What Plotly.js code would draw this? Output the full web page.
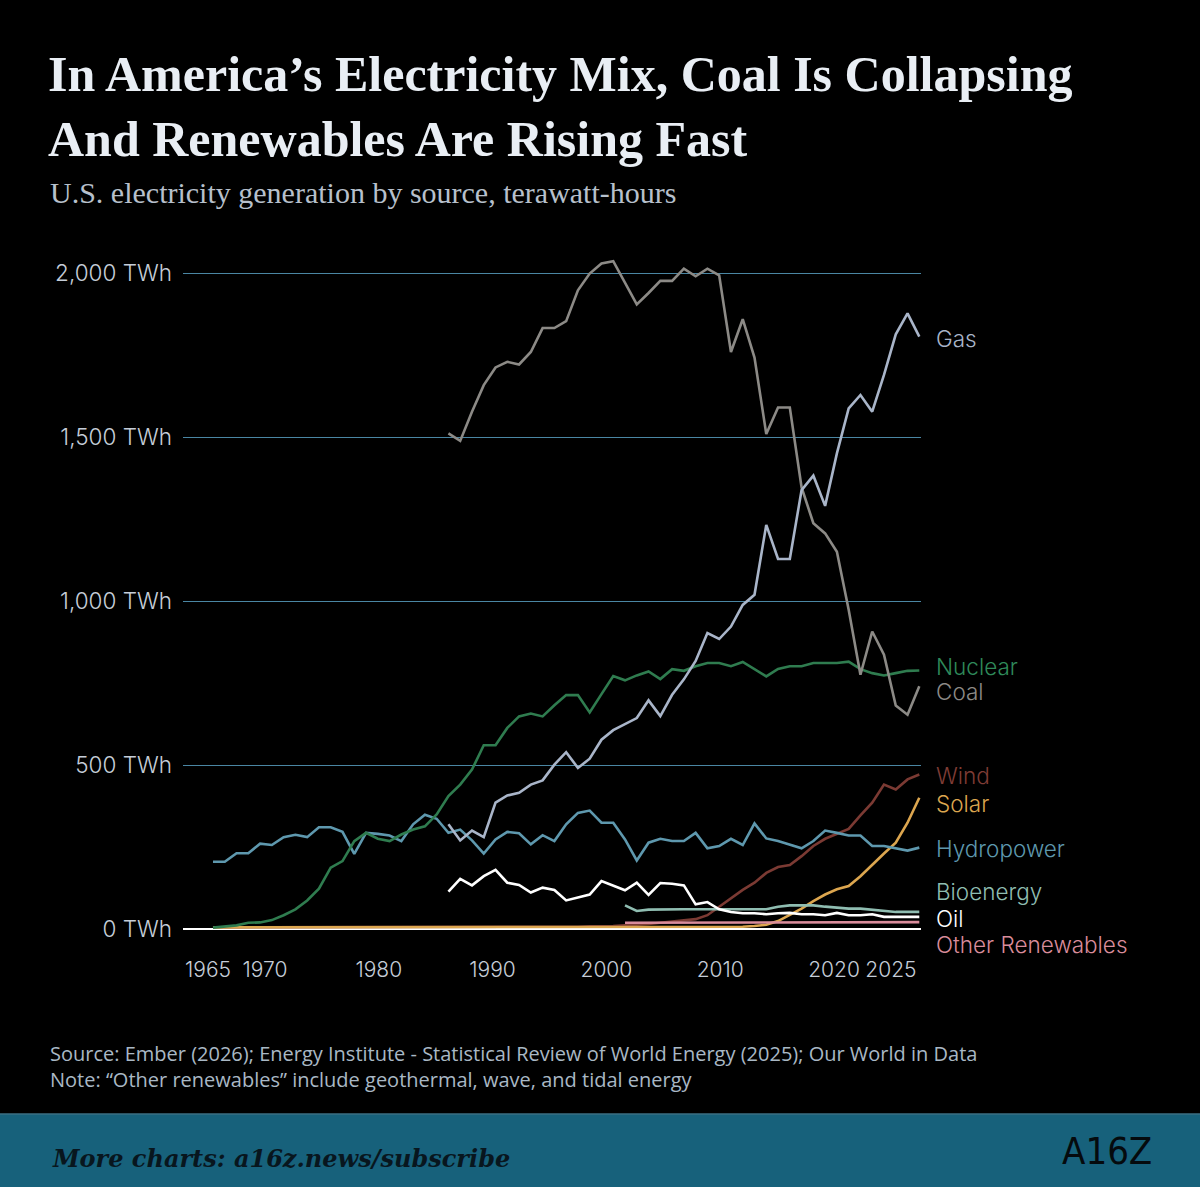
<!DOCTYPE html>
<html>
<head>
<meta charset="utf-8">
<script src="https://cdn.plot.ly/plotly-3.0.1.min.js"></script>
<style>
  html, body { margin: 0; padding: 0; background: #000; }
  #chart { width: 1200px; height: 1187px; }
</style>
</head>
<body>
<div id="chart"></div>
<script>
function range(a, b) { const r = []; for (let y = a; y <= b; y++) r.push(y); return r; }

const yearsFrom1965 = range(1965, 2025);
const yearsFrom1985 = range(1985, 2025);
const yearsFrom2000 = range(2000, 2025);

// TWh
const hydro = [
  206,206,232,232,261,257,281,288,281,311,
  311,297,230,294,291,286,269,320,349,337,
  294,304,271,231,274,297,293,259,287,269,
  320,355,362,325,325,274,210,264,276,269,
  269,294,247,254,276,257,323,277,269,257,
  247,269,301,294,286,286,254,254,246,240,
  249
];
const nuclear = [
  5,8,12,20,21,28,43,61,88,124,
  188,208,269,294,276,269,289,304,314,350,
  406,441,487,561,561,614,649,658,649,683,
  714,714,661,717,772,759,774,786,763,793,
  788,802,812,812,802,815,793,771,794,802,
  802,812,812,812,816,793,781,774,781,788,
  789
];
const wind = [
  6,6,6,6,6,6,6,6,6,6,
  6,6,6,6,6,6,6,6,7,7,
  7,7,7,7,8,8,8,8,8,8,
  8,8,9,9,10,12,13,16,20,23,
  27,31,43,69,96,120,142,172,190,196,
  223,254,276,292,306,347,386,441,426,457,
  472
];
const solar = [
  6,6,6,6,6,6,6,6,6,6,
  6,6,6,6,6,6,6,6,6,6,
  6,6,6,6,6,6,6,6,6,6,
  6,6,6,6,6,6,6,6,6,6,
  6,6,6,6,7,8,10,14,25,43,
  63,86,106,122,132,162,198,231,264,325,
  401
];
const gas = [
  320,271,301,281,386,408,416,441,454,502,
  540,492,520,578,607,626,644,698,650,715,
  762,818,903,885,923,989,1020,1233,1129,1129,
  1339,1383,1291,1451,1588,1629,1578,1690,1814,1878,
  1807
];
const coal = [
  1512,1489,1578,1659,1713,1730,1722,1760,1833,1833,
  1854,1948,1999,2030,2037,1969,1905,1940,1977,1977,
  2014,1991,2014,1994,1760,1860,1743,1510,1591,1591,
  1347,1238,1207,1151,974,776,908,837,682,654,
  741
];
const oil = [
  115,154,134,162,181,142,135,112,127,120,
  88,96,106,147,132,119,142,105,141,139,
  134,76,83,61,53,49,49,46,49,50,
  46,46,43,50,43,43,46,38,38,38,
  38
];
const bioenergy = [
  73,56,60,61,61,61,61,61,61,61,
  61,61,61,69,73,73,73,69,65,63,
  63,59,55,53,53,53
];
const otherRenewables = [
  20,20,20,21,21,21,21,21,21,21,
  21,21,21,22,22,22,22,22,22,22,
  22,22,22,22,22,22
];

const xTickVals = [1965, 1970, 1980, 1990, 2000, 2010, 2020, 2025];
const xTickText = ['1965', '1970', '1980', '1990', '2000', '2010', '2020', '2025'];
const yTickVals = [0, 500, 1000, 1500, 2000];
const yTickText = ['0 TWh', '500 TWh', '1,000 TWh', '1,500 TWh', '2,000 TWh'];

const seriesNames = ['Gas', 'Nuclear', 'Coal', 'Wind', 'Solar', 'Hydropower', 'Bioenergy', 'Oil', 'Other Renewables'];

// ---- styling ----
const C = {
  gas: '#a9b5c9', coal: '#8c8a86', nuclear: '#2f7c4f', wind: '#7b3a33',
  solar: '#dca64f', hydro: '#5e98ae', bio: '#8fbdb1', oil: '#ffffff', other: '#d98c9b'
};
const LW = 2.6;
function line(name, x, y, color) {
  return { type: 'scatter', mode: 'lines', name: name, x: x, y: y,
    line: { color: color, width: LW }, hoverinfo: 'skip', showlegend: false };
}

const traces = [
  line('Wind', yearsFrom1965, wind, C.wind),
  line('Solar', yearsFrom1965, solar, C.solar),
  line('Other Renewables', yearsFrom2000, otherRenewables, C.other),
  line('Bioenergy', yearsFrom2000, bioenergy, C.bio),
  line('Hydropower', yearsFrom1965, hydro, C.hydro),
  line('Nuclear', yearsFrom1965, nuclear, C.nuclear),
  line('Coal', yearsFrom1985, coal, C.coal),
  line('Gas', yearsFrom1985, gas, C.gas),
  line('Oil', yearsFrom1985, oil, C.oil),
  { type: 'scatter', x: [], y: [], xaxis: 'x2', yaxis: 'y', showlegend: false, hoverinfo: 'skip' }
];

// pixel geometry helpers (plot area 183..921 x 240..935)
const PL = 183, PR = 921, PT = 240, PB = 935;
const px2paperX = px => (px - PL) / (PR - PL);
const px2paperY = py => (PB - py) / (PB - PT);

const tickFont = { family: 'Inter, Lato, sans-serif', size: 22.5, color: '#c5cdd8', weight: 300 };
const labelFont = (color) => ({ family: 'Inter, Lato, sans-serif', size: 22.5, color: color, weight: 300 });

const labelPos = { 'Gas': 338, 'Nuclear': 666, 'Coal': 691, 'Wind': 775, 'Solar': 803,
  'Hydropower': 848, 'Bioenergy': 891, 'Oil': 918, 'Other Renewables': 945 };
const labelColor = { 'Gas': C.gas, 'Nuclear': '#2f8a5a', 'Coal': C.coal, 'Wind': '#7f3c35', 'Solar': C.solar,
  'Hydropower': C.hydro, 'Bioenergy': C.bio, 'Oil': '#ffffff', 'Other Renewables': C.other };

const annotations = seriesNames.map(n => ({
  text: n, xref: 'paper', yref: 'paper', x: px2paperX(934), y: px2paperY(labelPos[n]),
  xanchor: 'left', yanchor: 'middle', showarrow: false, font: labelFont(labelColor[n])
}));

annotations.push({
  text: 'U.S. electricity generation by source, terawatt-hours',
  xref: 'paper', yref: 'paper', x: px2paperX(48), y: px2paperY(192),
  xanchor: 'left', yanchor: 'middle', showarrow: false,
  font: { family: 'Liberation Serif, serif', size: 30, color: '#b7c0cc' }
});
annotations.push({
  text: 'Source: Ember (2026); Energy Institute - Statistical Review of World Energy (2025); Our World in Data',
  xref: 'paper', yref: 'paper', x: px2paperX(48), y: px2paperY(1053),
  xanchor: 'left', yanchor: 'middle', showarrow: false,
  font: { family: 'Open Sans, sans-serif', size: 20, color: '#a9b8c5' }
});
annotations.push({
  text: 'Note: “Other renewables” include geothermal, wave, and tidal energy',
  xref: 'paper', yref: 'paper', x: px2paperX(48), y: px2paperY(1079),
  xanchor: 'left', yanchor: 'middle', showarrow: false,
  font: { family: 'Open Sans, sans-serif', size: 20, color: '#a9b8c5' }
});
annotations.push({
  text: '<b><i>More charts: a16z.news/subscribe</i></b>',
  xref: 'paper', yref: 'paper', x: px2paperX(50), y: px2paperY(1158),
  xanchor: 'left', yanchor: 'middle', showarrow: false,
  font: { family: 'DejaVu Serif, serif', size: 24, color: '#08161e' }
});
annotations.push({
  text: 'A16Z',
  xref: 'paper', yref: 'paper', x: px2paperX(1154), y: px2paperY(1151),
  xanchor: 'right', yanchor: 'middle', showarrow: false,
  font: { family: 'DejaVu Sans Condensed, sans-serif', size: 38, color: '#050a0d' }
});

const layout = {
  width: 1200, height: 1187,
  paper_bgcolor: '#000000', plot_bgcolor: '#000000',
  margin: { l: PL, r: 1200 - PR, t: PT, b: 1187 - PB, pad: 0 },
  showlegend: false,
  title: {
    text: '<b>In America’s Electricity Mix, Coal Is Collapsing<br>And Renewables Are Rising Fast</b>',
    font: { family: 'Liberation Serif, serif', size: 50, color: '#e9eef4' },
    xref: 'container', yref: 'container', x: 48 / 1200, xanchor: 'left',
    y: 1 - 91 / 1187, yanchor: 'top'
  },
  xaxis: {
    range: [1962.452, 2025.144], showgrid: false, zeroline: false, showline: false,
    showticklabels: false, ticks: '', fixedrange: true
  },
  xaxis2: {
    overlaying: 'x', side: 'bottom', anchor: 'y',
    range: [1962.80, 2027.64], tickmode: 'array', tickvals: xTickVals, ticktext: xTickText,
    tickfont: { family: 'Inter, Lato, sans-serif', size: 21, color: '#c5cdd8', weight: 300 },
    ticks: '', ticklabelstandoff: 20,
    showgrid: false, zeroline: false, showline: false, fixedrange: true
  },
  yaxis: {
    range: [-17.38, 2101.5], tickmode: 'array', tickvals: yTickVals, ticktext: yTickText,
    tickfont: tickFont, ticks: '', ticklabelstandoff: 10,
    showgrid: true, gridcolor: '#4a86a3', gridwidth: 1.2,
    zeroline: true, zerolinecolor: '#ffffff', zerolinewidth: 2,
    showline: false, fixedrange: true
  },
  shapes: [
    { type: 'rect', xref: 'paper', yref: 'paper', layer: 'below',
      x0: px2paperX(0), x1: px2paperX(1200), y0: px2paperY(1187), y1: px2paperY(1114),
      fillcolor: '#17617b', line: { width: 0 } },
    { type: 'line', xref: 'paper', yref: 'paper', layer: 'below',
      x0: px2paperX(0), x1: px2paperX(1200), y0: px2paperY(1114), y1: px2paperY(1114),
      line: { color: '#3b6f83', width: 1.5 } }
  ],
  annotations: annotations
};

Plotly.newPlot('chart', traces, layout, { staticPlot: true, displayModeBar: false });
</script>
</body>
</html>
